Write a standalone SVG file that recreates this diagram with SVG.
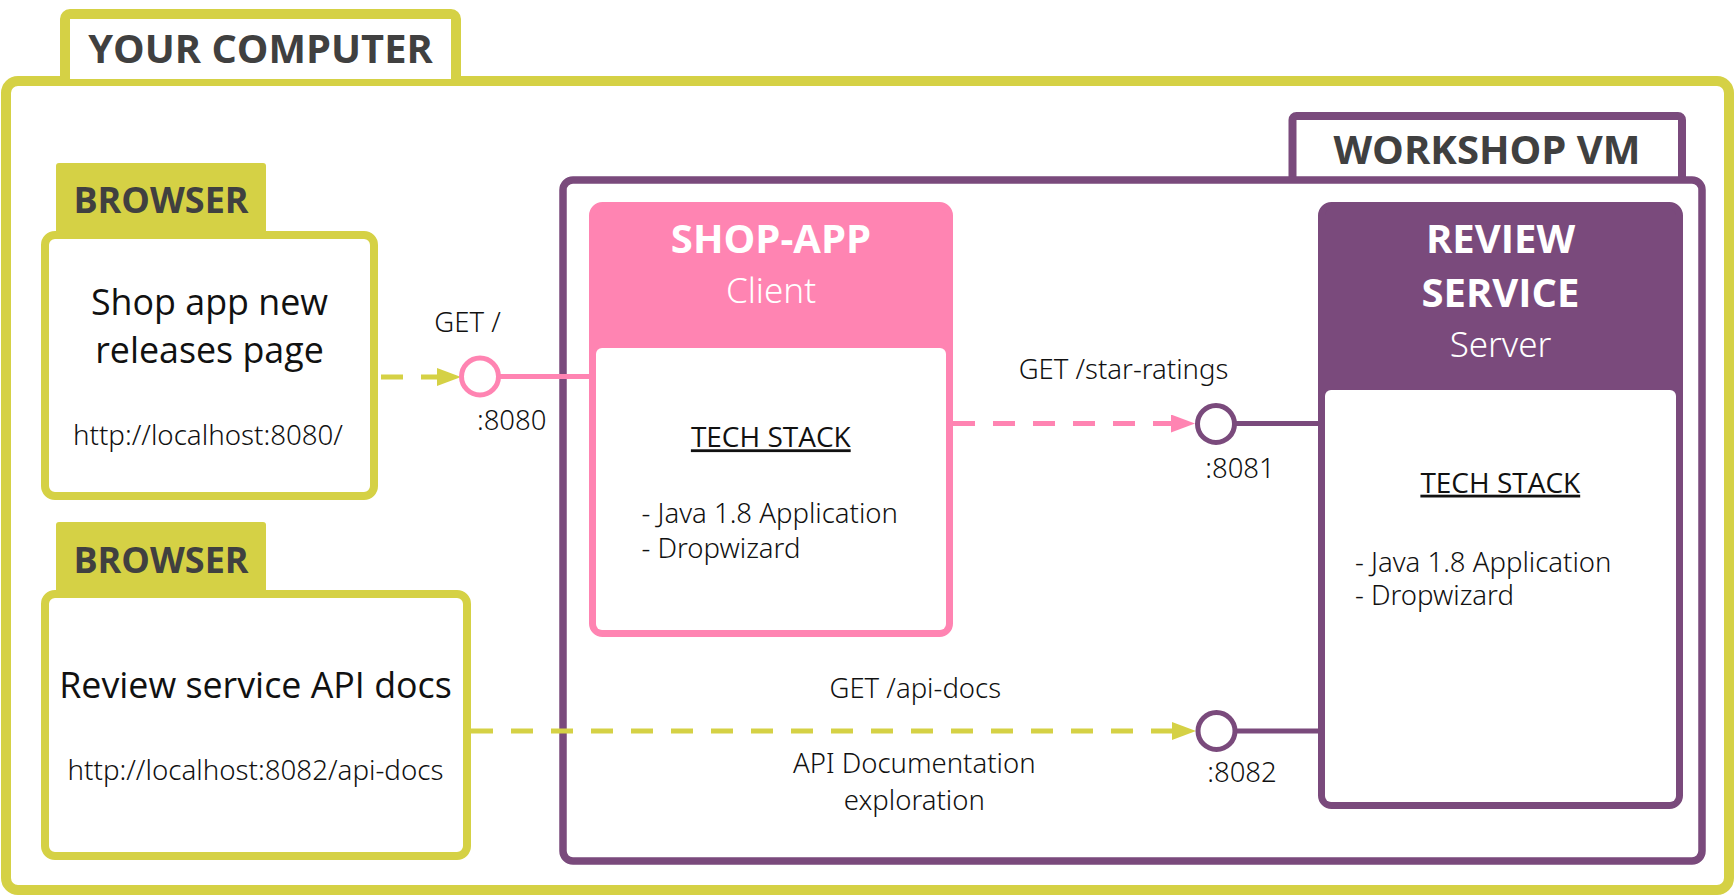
<svg xmlns="http://www.w3.org/2000/svg" width="1734" height="895" viewBox="0 0 1734 895">
<style>
.tab{font-family:"Open Sans","Liberation Sans",sans-serif;font-weight:700;fill:#404040;text-anchor:middle;}
.hd{font-family:"Open Sans","Liberation Sans",sans-serif;font-weight:700;fill:#ffffff;text-anchor:middle;font-size:40px;}
.sub{font-family:"Noto Sans","Open Sans",sans-serif;font-weight:300;fill:#ffffff;text-anchor:middle;font-size:35px;}
.lbl{font-family:"Noto Sans","Open Sans",sans-serif;font-weight:300;fill:#111;font-size:27.5px;text-anchor:middle;}
.big{font-family:"Open Sans","Liberation Sans",sans-serif;font-weight:400;fill:#111;font-size:35.8px;text-anchor:middle;}
.url{font-family:"Noto Sans","Open Sans",sans-serif;font-weight:300;fill:#111;font-size:27.7px;text-anchor:middle;}
.ts{font-family:"Open Sans","Liberation Sans",sans-serif;font-weight:400;fill:#111;font-size:28px;text-anchor:middle;text-decoration:underline;}
.li{font-family:"Noto Sans","Open Sans",sans-serif;font-weight:300;fill:#111;font-size:27.5px;}
.port{fill:#fff;stroke-width:5;}
</style>
<defs>
<marker id="ay" viewBox="0 0 24 18" markerWidth="24" markerHeight="18" refX="0" refY="9" orient="auto" markerUnits="userSpaceOnUse"><path d="M0,0 L24,9 L0,18 z" fill="#d5d145"/></marker>
<marker id="ap" viewBox="0 0 24 18" markerWidth="24" markerHeight="18" refX="0" refY="9" orient="auto" markerUnits="userSpaceOnUse"><path d="M0,0 L24,9 L0,18 z" fill="#ff84b2"/></marker>
</defs>

<g id="your-computer">
<rect x="65" y="14" width="391" height="90" rx="5" fill="#fff" stroke="#d5d145" stroke-width="10"/>
<rect x="6" y="81" width="1723" height="809" rx="12" fill="#fff" stroke="#d5d145" stroke-width="10"/>
<rect x="70" y="19" width="381" height="60" fill="#fff"/>
<text class="tab" x="260.5" y="63" font-size="39.8">YOUR COMPUTER</text>
</g>

<g id="workshop-vm">
<rect x="1292.5" y="116" width="389.5" height="80" rx="4" fill="#fff" stroke="#7a4a7c" stroke-width="8"/>
<rect x="563" y="180" width="1139" height="681" rx="10" fill="#fff" stroke="#7a4a7c" stroke-width="7.5"/>
<text class="tab" x="1487" y="164" font-size="40">WORKSHOP VM</text>
</g>

<g id="browser-1">
<rect x="56" y="163" width="210" height="80" rx="3" fill="#d5d145"/>
<text class="tab" x="161" y="213" font-size="36">BROWSER</text>
<rect x="45" y="235" width="329" height="261" rx="10" fill="#fff" stroke="#d5d145" stroke-width="8"/>
<text class="big" x="209.5" y="315">Shop app new</text>
<text class="big" x="209.5" y="363">releases page</text>
<text class="url" x="208" y="445">http://localhost:8080/</text>
</g>

<g id="browser-2">
<rect x="56" y="522" width="210" height="80" rx="3" fill="#d5d145"/>
<text class="tab" x="161" y="572.7" font-size="36">BROWSER</text>
<rect x="45" y="594" width="422" height="262" rx="10" fill="#fff" stroke="#d5d145" stroke-width="8"/>
<text class="big" x="255.5" y="698">Review service API docs</text>
<text class="url" x="255.5" y="780">http://localhost:8082/api-docs</text>
</g>

<g id="shop-app">
<rect x="592.5" y="205.5" width="357" height="428" rx="10" fill="#ff84b2" stroke="#ff84b2" stroke-width="7"/>
<rect x="596" y="348" width="350" height="282" rx="6" fill="#fff"/>
<text class="hd" x="771" y="252.6">SHOP-APP</text>
<text class="sub" x="771" y="302.7">Client</text>
<text class="ts" x="770.8" y="447.3">TECH STACK</text>
<text class="li" x="641.5" y="523.3">- Java 1.8 Application</text>
<text class="li" x="641.5" y="558.3">- Dropwizard</text>
</g>

<g id="review-service">
<rect x="1321.5" y="205.5" width="358" height="600" rx="10" fill="#7a4a7c" stroke="#7a4a7c" stroke-width="7"/>
<rect x="1325" y="390" width="351" height="412" rx="6" fill="#fff"/>
<text class="hd" x="1500.5" y="252.7">REVIEW</text>
<text class="hd" x="1500.5" y="306.7">SERVICE</text>
<text class="sub" x="1500.5" y="356.7">Server</text>
<text class="ts" x="1500.3" y="492.7">TECH STACK</text>
<text class="li" x="1355" y="571.5">- Java 1.8 Application</text>
<text class="li" x="1355" y="605">- Dropwizard</text>
</g>

<g id="connectors">
<line x1="381" y1="377" x2="437" y2="377" stroke="#d5d145" stroke-width="5" stroke-dasharray="22 18" marker-end="url(#ay)"/>
<line x1="499" y1="376.5" x2="590" y2="376.5" stroke="#ff84b2" stroke-width="5"/>
<line x1="953" y1="423.5" x2="1171" y2="423.5" stroke="#ff84b2" stroke-width="5" stroke-dasharray="22 18" marker-end="url(#ap)"/>
<line x1="1235" y1="423.5" x2="1319" y2="423.5" stroke="#7a4a7c" stroke-width="5"/>
<line x1="471" y1="731" x2="1172" y2="731" stroke="#d5d145" stroke-width="5" stroke-dasharray="22 18" marker-end="url(#ay)"/>
<line x1="1235" y1="731" x2="1319" y2="731" stroke="#7a4a7c" stroke-width="5"/>
<circle class="port" cx="480" cy="376.5" r="18.5" stroke="#ff84b2"/>
<circle class="port" cx="1216" cy="424" r="18.5" stroke="#7a4a7c"/>
<circle class="port" cx="1216.5" cy="731" r="18.5" stroke="#7a4a7c"/>
<text class="lbl" x="467.5" y="331.7" font-size="26.5">GET /</text>
<text class="lbl" x="511.7" y="430">:8080</text>
<text class="lbl" x="1123.5" y="379">GET /star-ratings</text>
<text class="lbl" x="1240" y="478">:8081</text>
<text class="lbl" x="915.3" y="698">GET /api-docs</text>
<text class="lbl" x="914.3" y="773">API Documentation</text>
<text class="lbl" x="914.3" y="810">exploration</text>
<text class="lbl" x="1242" y="782">:8082</text>
</g>
</svg>
